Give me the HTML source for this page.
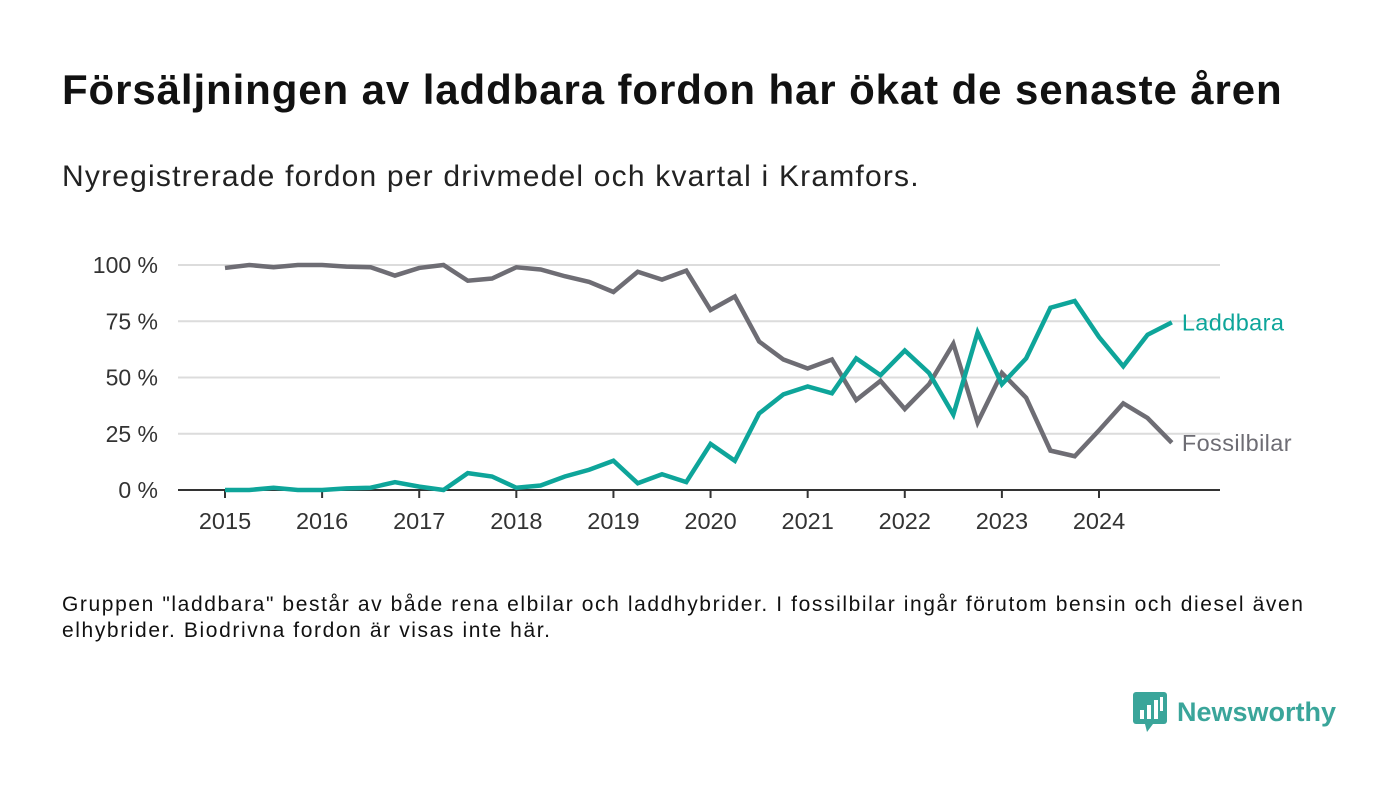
<!DOCTYPE html>
<html><head><meta charset="utf-8">
<style>
body{margin:0;width:1400px;height:793px;background:#fff;font-family:"Liberation Sans",sans-serif;overflow:hidden;position:relative}
h1{position:absolute;left:62px;top:66px;margin:0;font-size:42px;font-weight:bold;color:#111;letter-spacing:0.9px}
.sub{position:absolute;left:62px;top:160px;font-size:30px;color:#222;letter-spacing:1.2px}
.note{position:absolute;left:62px;top:592px;font-size:21px;line-height:26px;color:#111;width:1265px;letter-spacing:1.6px}
.logo{position:absolute;left:1133px;top:692px;display:flex;align-items:center;gap:10px;color:#3aa59a;font-size:27px;font-weight:bold}
</style></head><body>
<h1>Försäljningen av laddbara fordon har ökat de senaste åren</h1>
<div class="sub">Nyregistrerade fordon per drivmedel och kvartal i Kramfors.</div>
<svg id="chart" width="1400" height="793" style="position:absolute;left:0;top:0"></svg>
<div class="note">Gruppen "laddbara" består av både rena elbilar och laddhybrider. I fossilbilar ingår förutom bensin och diesel även elhybrider. Biodrivna fordon är visas inte här.</div>
<div class="logo"><svg width="34" height="40" viewBox="0 0 34 40"><rect x="0" y="0" width="34" height="32" rx="3" fill="#3aa59a"/><polygon points="12,32 20,32 14,40" fill="#3aa59a"/><rect x="7" y="18" width="4" height="9" fill="#fff"/><rect x="14" y="13" width="4" height="14" fill="#fff"/><rect x="21" y="8" width="4" height="19" fill="#fff"/><rect x="27" y="5" width="3" height="14" fill="#fff"/></svg><span>Newsworthy</span></div>
<script>
const years=["2015","2016","2017","2018","2019","2020","2021","2022","2023","2024"];
const yTicks=[0,25,50,75,100];
const laddbara=[0,0,1,0,0,0.7,1,3.5,1.5,0,7.5,6,1,2,6,9,13,3,7,3.5,20.5,13,34,42.5,46,43,58.5,51,62,52,33.5,70,47,58.5,81,84,68,55,69,74.5];
const fossil=[98.7,100,99,100,100,99.3,99,95.3,98.7,100,93,94,99,98,95,92.5,88,97,93.5,97.5,80,86,66,58,54,58,40,48.5,36,47,65,30,52,41,17.5,15,26.5,38.5,32,21];
const NS="http://www.w3.org/2000/svg";
const svg=document.getElementById('chart');
const x=i=>225+i*(1099-225)/36;
const y=v=>490-v*2.25;
function el(t,a){const e=document.createElementNS(NS,t);for(const k in a)e.setAttribute(k,a[k]);svg.appendChild(e);return e;}
yTicks.forEach(v=>{
 if(v>0){const g=el('line',{x1:178,x2:1220,y1:y(v),y2:y(v),stroke:'#dcdcdc','stroke-width':2});
 
 }
 const t=el('text',{x:158,y:y(v)+8,'text-anchor':'end','font-size':23,fill:'#333','font-family':'Liberation Sans, sans-serif'});
 t.textContent=v+' %';
 
 
});
const ax=el('line',{x1:178,x2:1220,y1:490,y2:490,stroke:'#333','stroke-width':2});


years.forEach((yr,k)=>{
 const xx=x(k*4);
 const tk=el('line',{x1:xx,x2:xx,y1:490,y2:498,stroke:'#333','stroke-width':2});
 
 
 const t=el('text',{x:xx,y:529,'text-anchor':'middle','font-size':23.5,fill:'#333','font-family':'Liberation Sans, sans-serif'});
 t.textContent=yr;
 
 
});
function series(data,color,name,label){
 const p=el('polyline',{points:data.map((v,i)=>x(i)+','+y(v)).join(' '),fill:'none',stroke:color,'stroke-width':4.5,'stroke-linejoin':'miter'});
 
 
 const last=data.length-1;
 const t=el('text',{x:x(last)+10,y:y(data[last])+8,'font-size':23.5,'letter-spacing':0.4,fill:color,'font-family':'Liberation Sans, sans-serif'});
 t.textContent=label;
 
 
}
series(fossil,'#6e6d74','fossilbilar','Fossilbilar');
series(laddbara,'#0ea59a','laddbara','Laddbara');
</script>
</body></html>
